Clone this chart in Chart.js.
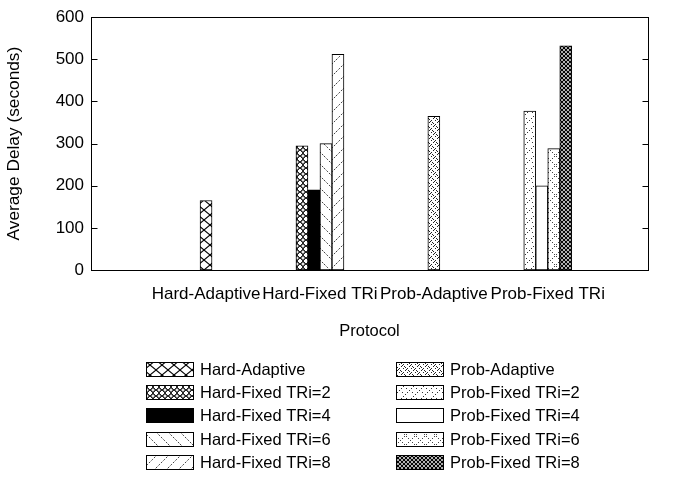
<!DOCTYPE html>
<html>
<head>
<meta charset="utf-8">
<script src="https://cdn.jsdelivr.net/npm/chart.js@4"></script>
<style>
  html, body { margin: 0; padding: 0; background: #fff; }
  canvas { display: block; }
</style>
</head>
<body>
<canvas id="chart" width="677" height="491"></canvas>
<script>
// Protocol groups along the x axis
const categories = ['Hard-Adaptive', 'Hard-Fixed TRi', 'Prob-Adaptive', 'Prob-Fixed TRi'];

// Series names, in legend order
const seriesNames = [
  'Hard-Adaptive', 'Hard-Fixed TRi=2', 'Hard-Fixed TRi=4', 'Hard-Fixed TRi=6', 'Hard-Fixed TRi=8',
  'Prob-Adaptive', 'Prob-Fixed TRi=2', 'Prob-Fixed TRi=4', 'Prob-Fixed TRi=6', 'Prob-Fixed TRi=8'
];

// Average delay (seconds) per series, one slot per protocol group
const hardAdaptive  = [165, null, null, null];
const hardFixed2    = [null, 295, null, null];
const hardFixed4    = [null, 190, null, null];
const hardFixed6    = [null, 300, null, null];
const hardFixed8    = [null, 512, null, null];
const probAdaptive  = [null, null, 365, null];
const probFixed2    = [null, null, null, 377];
const probFixed4    = [null, null, null, 200];
const probFixed6    = [null, null, null, 288];
const probFixed8    = [null, null, null, 532];

const seriesValues = [hardAdaptive, hardFixed2, hardFixed4, hardFixed6, hardFixed8,
                      probAdaptive, probFixed2, probFixed4, probFixed6, probFixed8];

// Y axis tick labels
const yTicks = [0, 100, 200, 300, 400, 500, 600];

const FONT = '"Liberation Sans", Arial, Helvetica, sans-serif';
const FONT_SIZE = 17;

// ---- monochrome fill patterns ----
function makePattern(w, h, paint) {
  const c = document.createElement('canvas');
  c.width = w; c.height = h;
  const g = c.getContext('2d');
  g.fillStyle = '#fff';
  g.fillRect(0, 0, w, h);
  paint(g, w, h);
  return g.createPattern(c, 'repeat');
}
function line(g, x1, y1, x2, y2, color, lw) {
  g.strokeStyle = color; g.lineWidth = lw;
  g.beginPath(); g.moveTo(x1, y1); g.lineTo(x2, y2); g.stroke();
}
function dots(g, pts, color, s) {
  g.fillStyle = color;
  pts.forEach(p => g.fillRect(p[0], p[1], s, s));
}

const fills = [
  // big cross-hatch
  makePattern(12, 10, (g, w, h) => {
    line(g, 0, 0, w, h, '#000', 1.1);
    line(g, w, 0, 0, h, '#000', 1.1);
  }),
  // fine lattice with rings
  makePattern(6, 6, (g, w, h) => {
    line(g, 0, 0, w, h, '#222', 1.0);
    line(g, w, 0, 0, h, '#222', 1.0);
    g.strokeStyle = '#333'; g.lineWidth = 0.8;
    g.beginPath(); g.arc(3, 0, 1.6, 0, Math.PI * 2); g.stroke();
    g.beginPath(); g.arc(3, 6, 1.6, 0, Math.PI * 2); g.stroke();
  }),
  // solid black
  '#000',
  // sparse back-slash lines
  makePattern(12, 12, (g, w, h) => {
    g.setLineDash([2, 1.5]);
    line(g, 0, 0, w, h, '#444', 1);
  }),
  // sparse forward-slash lines
  makePattern(12, 12, (g, w, h) => {
    g.setLineDash([2, 1.5]);
    line(g, 0, h, w, 0, '#444', 1);
  }),
  // dense stipple
  makePattern(8, 8, (g) => {
    dots(g, [[1, 6], [2, 5], [5, 2], [6, 1], [0, 2], [4, 6], [3, 0], [7, 4],
             [1, 3], [5, 7], [3, 4], [7, 0]], '#222', 1);
  }),
  // sparse diagonal stipple
  makePattern(10, 10, (g) => {
    dots(g, [[1, 8], [3, 6], [5, 4], [7, 2], [9, 0], [2, 2], [6, 8]], '#333', 1);
  }),
  // empty
  '#fff',
  // dotted cross-hatch
  makePattern(10, 10, (g) => {
    dots(g, [[0, 0], [2, 2], [4, 4], [6, 6], [8, 8], [8, 2], [2, 8], [6, 4], [4, 6]], '#444', 1);
  }),
  // dense dark cross-hatch
  makePattern(4, 4, (g, w, h) => {
    line(g, 0, 0, w, h, '#000', 1.2);
    line(g, w, 0, 0, h, '#000', 1.2);
  })
];

const datasets = seriesNames.map((name, k) => ({
  label: name,
  data: seriesValues[k].map((v, i) => ({ x: i, y: v })),
  backgroundColor: fills[k],
  borderColor: '#000',
  borderWidth: 1,
  borderSkipped: false,
  barThickness: 12,
  skipNull: true
}));

// Frame, inward tick marks and the two-column key
const framePlugin = {
  id: 'frame',
  beforeDraw(chart) {
    const { ctx, width, height } = chart;
    ctx.save();
    ctx.fillStyle = '#fff';
    ctx.fillRect(0, 0, width, height);
    ctx.restore();
  },
  afterDraw(chart) {
    const { ctx, chartArea: a, scales } = chart;
    ctx.save();
    ctx.strokeStyle = '#000';
    ctx.lineWidth = 1;
    const L = Math.round(a.left) + 0.5, R = Math.round(a.right) + 0.5;
    const T = Math.round(a.top) + 0.5, B = Math.round(a.bottom) + 0.5;
    ctx.strokeRect(L, T, R - L, B - T);
    ctx.beginPath();
    yTicks.forEach(v => {
      const y = Math.round(scales.y.getPixelForValue(v)) + 0.5;
      ctx.moveTo(L, y); ctx.lineTo(L + 6, y);
      ctx.moveTo(R, y); ctx.lineTo(R - 6, y);
    });
    ctx.stroke();

    // key: Hard series on the left, Prob series on the right
    ctx.font = '16.5px ' + FONT;
    ctx.textBaseline = 'middle';
    ctx.textAlign = 'left';
    const rowY = [369, 392, 415, 439, 462];
    const cols = [{ sx: 146, tx: 200 }, { sx: 396, tx: 450 }];
    seriesNames.forEach((name, k) => {
      const col = cols[Math.floor(k / 5)];
      const y = rowY[k % 5];
      ctx.fillStyle = fills[k];
      ctx.fillRect(col.sx, y - 7, 47, 14);
      ctx.strokeRect(col.sx + 0.5, y - 7 + 0.5, 47, 14);
      ctx.fillStyle = '#000';
      ctx.fillText(name, col.tx, y + 1);
    });
    ctx.restore();
  }
};

new Chart(document.getElementById('chart'), {
  type: 'bar',
  data: { datasets },
  plugins: [framePlugin],
  options: {
    responsive: false,
    animation: false,
    devicePixelRatio: 1,
    layout: { padding: { top: 12, right: 29, left: 0, bottom: 0 } },
    plugins: { legend: { display: false }, tooltip: { enabled: false } },
    scales: {
      x: {
        type: 'linear',
        offset: false,
        min: -1.01,
        max: 3.88,
        grid: { display: false, drawTicks: false },
        border: { display: false },
        afterBuildTicks(scale) {
          scale.ticks = categories.map((_, i) => ({ value: i }));
        },
        afterFit(scale) { scale.height = 221; },
        ticks: {
          autoSkip: false,
          maxRotation: 0,
          padding: 14,
          color: '#000',
          font: { family: FONT, size: FONT_SIZE },
          callback: (v) => categories[v]
        },
        title: {
          display: true,
          text: 'Protocol',
          color: '#000',
          font: { family: FONT, size: 16.5 },
          padding: { top: 0, bottom: 150 }
        }
      },
      y: {
        min: 0,
        max: 600,
        grid: { display: false, drawTicks: false },
        border: { display: false },
        afterBuildTicks(scale) {
          scale.ticks = yTicks.map(v => ({ value: v }));
        },
        afterFit(scale) { scale.width = 91; },
        ticks: {
          padding: 7,
          color: '#000',
          font: { family: FONT, size: FONT_SIZE }
        },
        title: {
          display: true,
          text: 'Average Delay (seconds)',
          color: '#000',
          font: { family: FONT, size: 17.3 },
          padding: { top: 4, bottom: 0 }
        }
      }
    }
  }
});
</script>
</body>
</html>
